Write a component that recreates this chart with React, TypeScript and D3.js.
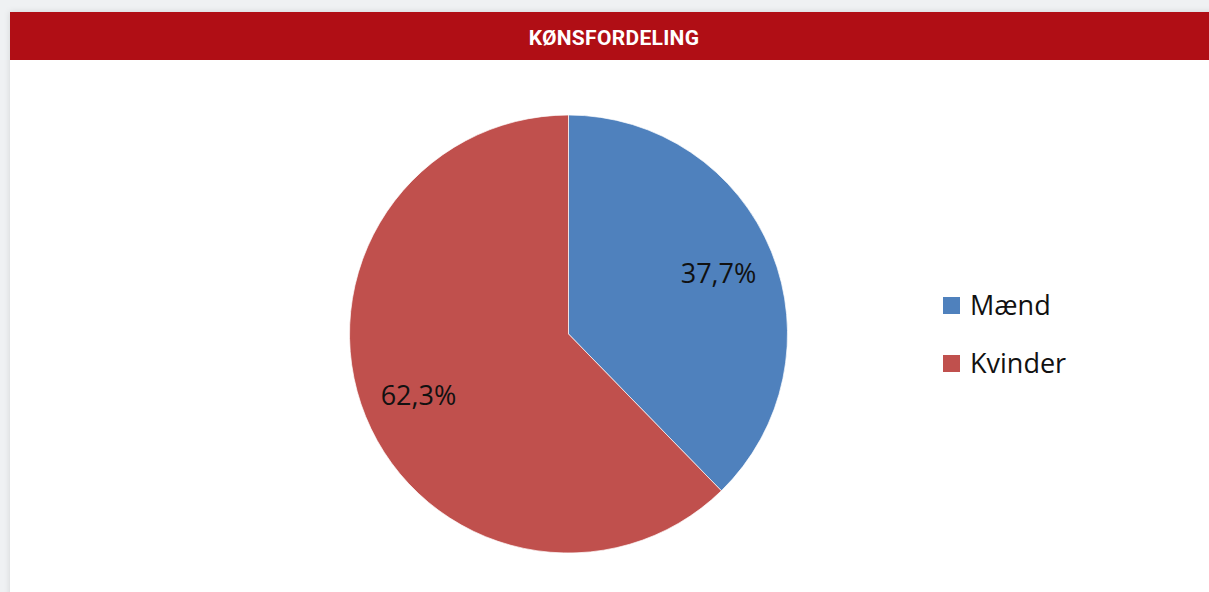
import React from "react";
import * as d3 from "d3";

const TITLE = "KØNSFORDELING";
const categories = ["Mænd", "Kvinder"];
const values = [37.7, 62.3];
const colors = ["#4f81bd", "#c0504d"];

const W = 1209;
const H = 592;

export default function App() {
  const cx = 568.5;
  const cy = 334;
  const r = 219;
  const pie = d3.pie<number>().sort(null).value((d) => d);
  const arcs = pie(values);
  const arc = d3.arc<d3.PieArcDatum<number>>().innerRadius(0).outerRadius(r);
  const labelArc = d3.arc<d3.PieArcDatum<number>>().innerRadius(162).outerRadius(162);
  const fmt = (v: number) => v.toFixed(1).replace(".", ",") + "%";

  return (
    <div style={{ position: "fixed", left: 0, top: 0, width: W, height: H }}>
      <svg width={W} height={H} style={{ display: "block" }}>
        <defs>
          <filter id="sh" x="-5%" y="-5%" width="110%" height="110%">
            <feDropShadow dx="0" dy="0" stdDeviation="3" floodColor="#000" floodOpacity="0.12" />
          </filter>
        </defs>
        <rect x={0} y={0} width={W} height={H} fill="#eff1f3" />
        <rect x={10} y={12} width={W + 20} height={H} fill="#ffffff" filter="url(#sh)" />
        <rect x={10} y={12} width={W} height={48} fill="#b00e15" />
        <text
          x={614}
          y={45}
          textAnchor="middle"
          fill="#ffffff"
          style={{ font: "700 21px Roboto", letterSpacing: "0.3px" }}
        >
          {TITLE}
        </text>
        <g transform={`translate(${cx},${cy})`}>
          {arcs.map((a, i) => (
            <path key={i} d={arc(a) || ""} fill={colors[i]} stroke="#ffffff" strokeWidth={0.7} />
          ))}
          {arcs.map((a, i) => {
            const [lx, ly] = labelArc.centroid(a);
            return (
              <text
                key={"l" + i}
                x={lx}
                y={ly + 10}
                textAnchor="middle"
                fill="#111"
                style={{ font: "27px 'Open Sans'" }}
              >
                {fmt(values[i])}
              </text>
            );
          })}
        </g>
        <g transform="translate(943,297)">
          {categories.map((c, i) => (
            <g key={c} transform={`translate(0,${i * 58})`}>
              <rect x={0} y={0} width={17} height={17} fill={colors[i]} />
              <text x={27} y={18} fill="#111" style={{ font: "27px 'Open Sans'" }}>
                {c}
              </text>
            </g>
          ))}
        </g>
      </svg>
    </div>
  );
}
